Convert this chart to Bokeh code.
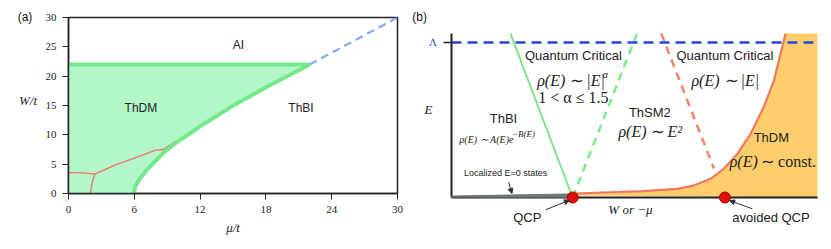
from bokeh.plotting import figure
from bokeh.models import Label, Arrow, NormalHead, FixedTicker, Range1d
from bokeh.embed import file_html
from bokeh.resources import INLINE

# ---------------- Panel (a) data ----------------
a_xticks = [0, 6, 12, 18, 24, 30]
a_yticks = [0, 5, 10, 15, 20, 25, 30]
# ThDM / ThBI boundary (thick green)
edge_mu = [5.96, 6.1, 6.57, 7.18, 8.09, 8.7, 9.6, 12.05, 14.94, 18.1, 22.0]
edge_w = [0.0, 1.3, 2.7, 4.1, 5.85, 7.0, 8.4, 11.5, 14.9, 18.2, 22.0]
# ThDM / AI boundary
ai_mu = [0.0, 22.0]
ai_w = [22.0, 22.0]
# extrapolated boundary (dashed blue)
dash_mu = [22.0, 30.0]
dash_w = [22.0, 30.0]
# thin red lines
red1_mu = [0.0, 1.4, 2.4]
red1_w = [3.55, 3.5, 3.3]
red2_mu = [2.0, 2.16, 2.4]
red2_w = [0.0, 1.9, 3.3]
red3_mu = [2.4, 4.44, 5.96, 7.94, 8.64, 9.6, 9.85]
red3_w = [3.3, 5.0, 6.0, 7.4, 7.5, 8.7, 8.9]

# ---------------- Panel (b) data (schematic, normalised) ----------------
lam = 0.945
qcp_x = 0.331
aqcp_x = 0.747
green_solid_x = [0.161, qcp_x]
green_solid_y = [1.0, 0.0]
green_dash_x = [qcp_x, 0.507]
green_dash_y = [0.0, 1.0]
red_dash_x = [0.573, 0.717]
red_dash_y = [1.0, 0.177]
orange_x = [0.331, 0.334, 0.434, 0.525, 0.617, 0.662, 0.708, 0.744, 0.781, 0.817, 0.853, 0.881, 0.899, 0.913]
orange_y = [0.012, 0.024, 0.032, 0.039, 0.053, 0.073, 0.114, 0.175, 0.266, 0.388, 0.551, 0.713, 0.876, 1.0]
grey_x = [0.0, qcp_x, qcp_x, 0.0]
grey_y = [0.0, 0.0, 0.022, 0.009]

SANS = "Liberation Sans"
SERIF = "Liberation Serif"
DARK = "#222222"

# ---------------- label strip left of panel (a) ----------------
strip = figure(width=40, height=249, x_range=Range1d(0, 40), y_range=Range1d(249, 0),
               output_backend="svg", toolbar_location=None, title=None,
               x_axis_type=None, y_axis_type=None,
               min_border_left=0, min_border_right=0, min_border_top=0, min_border_bottom=0)
strip.grid.visible = False
strip.outline_line_color = None
strip.add_layout(Label(x=24.5, y=16.5, text="(a)", text_font=SANS, text_font_size="12px",
                       text_align="center", text_baseline="middle", text_color="#111111"))
strip.add_layout(Label(x=27.5, y=100, text="W/t", text_font=SERIF, text_font_style="italic",
                       text_font_size="13px", text_align="center", text_baseline="middle",
                       text_color=DARK))

# ---------------- Panel (a) ----------------
pa = figure(width=368, height=249, x_range=Range1d(0, 30), y_range=Range1d(0, 30),
            output_backend="svg", toolbar_location=None, title=None,
            min_border_left=28, min_border_right=11, min_border_top=17, min_border_bottom=56)
pa.grid.visible = False
pa.outline_line_color = DARK
pa.outline_line_width = 1.5
for ax in (pa.xaxis, pa.yaxis):
    ax.axis_line_color = DARK
    ax.axis_line_width = 1.5
    ax.major_tick_line_color = DARK
    ax.major_tick_out = 6
    ax.major_tick_in = 0
    ax.minor_tick_line_color = None
    ax.major_label_text_font = SERIF
    ax.major_label_text_font_size = "11px"
    ax.major_label_text_color = DARK
    ax.axis_label_text_font = SERIF
    ax.axis_label_text_font_style = "italic"
    ax.axis_label_text_font_size = "13px"
    ax.axis_label_text_color = DARK
pa.xaxis.ticker = FixedTicker(ticks=a_xticks)
pa.yaxis.ticker = FixedTicker(ticks=a_yticks)
pa.xaxis.major_label_standoff = 6
pa.yaxis.major_label_standoff = 6
pa.xaxis.axis_label = "μ/t"
pa.xaxis.axis_label_standoff = 4

fill_x = [0.0] + edge_mu + [0.0]
fill_y = [0.0] + edge_w + [22.0]
pa.patch(fill_x, fill_y, fill_color="#B3F7C8", line_color=None)
pa.line(red1_mu, red1_w, line_color="#F07462", line_width=1.3)
pa.line(red2_mu, red2_w, line_color="#F07462", line_width=1.3)
pa.line(red3_mu, red3_w, line_color="#F07462", line_width=1.3)
pa.line(edge_mu, edge_w, line_color="#74E98A", line_width=4)
pa.line(ai_mu, ai_w, line_color="#74E98A", line_width=4)
pa.line(dash_mu, dash_w, line_color="#8DAEEE", line_width=2.3, line_dash="8 5")

for (x, y, t) in [(15.5, 25.3, "AI"), (6.6, 14.5, "ThDM"), (21.2, 14.5, "ThBI")]:
    pa.add_layout(Label(x=x, y=y, text=t, text_font=SANS, text_font_size="12px",
                        text_align="center", text_baseline="middle", text_color=DARK))

# ---------------- Panel (b) ----------------
pb = figure(width=423, height=249, x_range=Range1d(-0.1175, 1.0383),
            y_range=Range1d(-0.3171, 1.2012),
            output_backend="svg", toolbar_location=None, title=None,
            x_axis_type=None, y_axis_type=None,
            min_border_left=0, min_border_right=0, min_border_top=0, min_border_bottom=0)
pb.grid.visible = False
pb.outline_line_color = None

# orange ThDM region
pb.patch(orange_x + [1.0, 1.0], orange_y + [1.0, 0.0], fill_color="#FECD6C", line_color=None)
pb.line(orange_x, orange_y, line_color="#F27760", line_width=2.2)
pb.line(green_solid_x, green_solid_y, line_color="#7CE48A", line_width=2)
pb.line(green_dash_x, green_dash_y, line_color="#7CEB8A", line_width=2.5, line_dash="8 6")
pb.line(red_dash_x, red_dash_y, line_color="#F5826E", line_width=2.5, line_dash="8 6")
pb.line([0.0, 1.0], [lam, lam], line_color="#2A46E0", line_width=2.5, line_dash="10 6")
# schematic axes
pb.line([0.0, 1.0], [0.0, 0.0], line_color=DARK, line_width=2)
pb.line([0.0, 0.0], [0.0, 1.0], line_color=DARK, line_width=2)
pb.line([-0.022, 0.003], [lam, lam], line_color=DARK, line_width=1.3)
pb.patch(grey_x, grey_y, fill_color="#737a7b", line_color="#5A5F60", line_width=0.8)
pb.scatter([qcp_x, aqcp_x], [0.0, 0.0], size=11, fill_color="#E00D0D", line_color="#B00000")

def lab(x, y, t, font=SANS, size="13px", style="normal", align="center", color=DARK):
    pb.add_layout(Label(x=x, y=y, text=t, text_font=font, text_font_size=size,
                        text_font_style=style, text_align=align, text_baseline="middle",
                        text_color=color))

lab(-0.0505, 0.947, "Λ", font=SERIF, size="11px", color="#2A3FE0")
lab(0.333, 0.863, "Quantum Critical")
lab(0.234, 0.716, "ρ(E) ∼ |E|", font=SERIF, size="16px", style="italic", align="left")
lab(0.413, 0.752, "α", font=SERIF, size="10px", style="italic", align="left")
lab(0.333, 0.611, "1 < α ≤ 1.5", font=SERIF, size="16px")
lab(0.142, 0.483, "ThBI")
lab(0.022, 0.356, "ρ(E) ∼ A(E)e", font=SERIF, size="10px", style="italic", align="left")
lab(0.165, 0.387, "−B(E)", font=SERIF, size="9px", style="italic", align="left")
lab(0.542, 0.52, "ThSM2")
lab(0.543, 0.402, "ρ(E) ∼ E²", font=SERIF, size="16px", style="italic")
lab(0.747, 0.863, "Quantum Critical")
lab(0.748, 0.713, "ρ(E) ∼ |E|", font=SERIF, size="16px", style="italic")
lab(0.874, 0.368, "ThDM")
lab(0.760, 0.222, "ρ(E)", font=SERIF, size="16px", style="italic", align="left")
lab(0.846, 0.222, "∼ const.", font=SERIF, size="16px", align="left")
lab(0.148, 0.148, "Localized E=0 states", size="9px")
lab(0.207, -0.121, "QCP")
lab(0.489, -0.073, "W or −μ", font=SERIF, size="13px", style="italic")
lab(0.873, -0.122, "avoided QCP")
lab(-0.063, 0.538, "E", font=SERIF, size="13px", style="italic")
lab(-0.087, 1.10, "(b)", size="12px", color="#111111")

for (x0, y0, x1, y1) in [(0.156, 0.093, 0.165, 0.024),
                         (0.257, -0.075, 0.322, -0.017),
                         (0.822, -0.069, 0.760, -0.019)]:
    pb.add_layout(Arrow(x_start=x0, y_start=y0, x_end=x1, y_end=y1,
                        line_color="#333333", line_width=1,
                        end=NormalHead(size=5, fill_color="#333333", line_color="#333333")))

html = file_html([strip, pa, pb], INLINE)
html = html.replace("</head>",
                    "<style>body{display:flex !important;flex-direction:row;"
                    "align-items:flex-start;margin:0;}</style></head>", 1)
open("out.html", "w").write(html)
